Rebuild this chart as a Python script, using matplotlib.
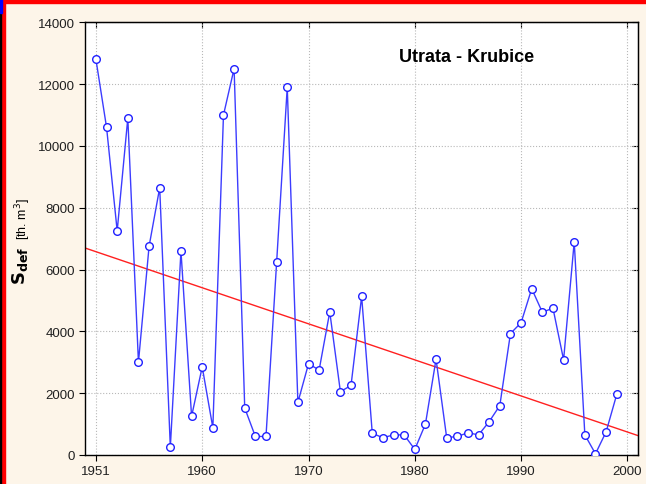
import numpy as np
import matplotlib
matplotlib.use('Agg')
from matplotlib import pyplot as plt
from matplotlib.patches import Rectangle

# Dane: deficyt odpływu, Utrata - Krubice
years = list(range(1951, 2001))
s_def = [12800, 10600, 7250, 10900, 3000, 6750, 8650, 250, 6600, 1250,
         2850, 880, 11000, 12500, 1520, 600, 600, 6230, 11900, 1700,
         2950, 2750, 4630, 2050, 2250, 5130, 700, 560, 650, 650,
         180, 1000, 3100, 560, 600, 720, 650, 1080, 1600, 3930,
         4280, 5380, 4620, 4750, 3080, 6900, 650, 40, 750, 1960]
tick_pos = [1951, 1961, 1971, 1981, 1991, 2001]
tick_labels = ['1951', '1960', '1970', '1980', '1990', '2000']
y_ticks = [0, 2000, 4000, 6000, 8000, 10000, 12000, 14000]

plt.rcParams['font.family'] = ['Liberation Sans', 'DejaVu Sans']

fig = plt.figure(figsize=(6.46, 4.85), dpi=100)
fig.patch.set_facecolor('#fdf5e9')

# ramka okna
fig.patches.append(Rectangle((0, 0), 5 / 646, 1, transform=fig.transFigure,
                             color='#ff0000', zorder=0))
fig.patches.append(Rectangle((0, 1 - 4 / 485), 1, 4 / 485, transform=fig.transFigure,
                             color='#ff0000', zorder=0))
fig.patches.append(Rectangle((0, 0), 1.2 / 646, 1, transform=fig.transFigure,
                             color='#000000', zorder=1))
fig.patches.append(Rectangle((0, 1 - 14 / 485), 1.5 / 646, 14 / 485, transform=fig.transFigure,
                             color='#0000ff', zorder=1))

ax = fig.add_axes([85.3 / 646, 1 - 456 / 485, (638 - 85.3) / 646, (456 - 23.3) / 485])
ax.set_facecolor('white')

ax.plot(years, s_def, color='#3c3cff', linewidth=1.0, marker='o', markersize=5.5,
        markerfacecolor='white', markeredgecolor='#2020ff', markeredgewidth=1.0, zorder=3)

# linia trendu
a, b = np.polyfit(years, s_def, 1)
xl = np.array([1950, 2002])
ax.plot(xl, a * xl + b, color='#ff2020', linewidth=1.0, zorder=2)

ax.set_xlim(1950, 2002)
ax.set_ylim(0, 14000)
ax.set_xticks(tick_pos)
ax.set_xticklabels(tick_labels)
ax.set_yticks(y_ticks)
ax.tick_params(axis='both', labelsize=9.5, labelcolor='#202020', length=4, width=0.8,
               direction='out')
ax.grid(True, linestyle=':', color='#b8b8b8', linewidth=0.8)
for s in ax.spines.values():
    s.set_color('black')
    s.set_linewidth(1.0)

# kreski do środka na górze i po prawej
top = ax.secondary_xaxis('top')
top.set_xticks(tick_pos)
top.tick_params(direction='in', length=4, width=0.8, labeltop=False)
right = ax.secondary_yaxis('right')
right.set_yticks(y_ticks)
right.tick_params(direction='in', length=4, width=0.8, labelright=False)

ax.text(0.69, 0.92, 'Utrata - Krubice', transform=ax.transAxes, ha='center', va='center',
        fontsize=13, fontweight='bold')

fig.text(20 / 646, 1 - 266 / 485, r'$\mathbf{S}_{\mathbf{def}}$', rotation=90,
         ha='center', va='center', fontsize=13)
fig.text(23 / 646, 1 - 219 / 485, r'[th. m$^3$]', rotation=90,
         ha='center', va='center', fontsize=9)

plt.savefig('out.png', dpi=100, facecolor=fig.get_facecolor())
